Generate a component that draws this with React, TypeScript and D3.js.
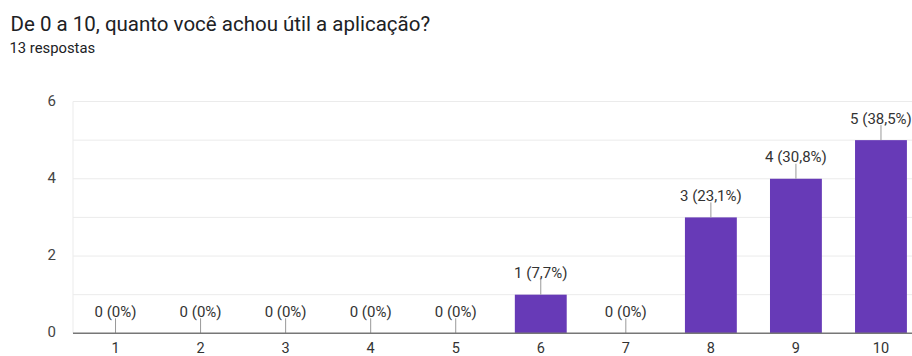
import React, { useEffect, useLayoutEffect, useRef, useState } from "react";
import * as d3 from "d3";

const categories = ["1", "2", "3", "4", "5", "6", "7", "8", "9", "10"];
const counts = [0, 0, 0, 0, 0, 1, 0, 3, 4, 5];
const percentLabels = ["0%", "0%", "0%", "0%", "0%", "7,7%", "0%", "23,1%", "30,8%", "38,5%"];
const yTicks = [0, 2, 4, 6];
const gridValues = [1, 2, 3, 4, 5, 6];
const title = "De 0 a 10, quanto você achou útil a aplicação?";
const subtitle = "13 respostas";

const W = 912;
const H = 356;
const left = 73;
const right = 923.5;
const top = 101.5;
const bottom = 333.3;
const FONT = "Roboto, Arial, sans-serif";

export default function App() {
  const titleRef = useRef<SVGTextElement>(null);
  const [titleSize, setTitleSize] = useState(19);

  useEffect(() => {
    document.body.style.margin = "0";
  }, []);

  useLayoutEffect(() => {
    const el = titleRef.current;
    if (!el) return;
    const len = el.getComputedTextLength();
    if (len > 0) {
      const target = 420;
      const next = (titleSize * target) / len;
      if (Math.abs(next - titleSize) > 0.05) setTitleSize(next);
    }
  }, [titleSize]);

  const x = d3.scaleBand<string>().domain(categories).range([left, right]).paddingInner(0.39).paddingOuter(0.195);
  const y = d3.scaleLinear().domain([0, 6]).range([bottom, top]);

  return (
    <svg width={W} height={H} style={{ display: "block", background: "#fff" }}>
      <text ref={titleRef} x={10.5} y={30.5} fontFamily={FONT} fontSize={titleSize} fill="#202124">{title}</text>
      <text x={9.5} y={53} fontFamily={FONT} fontSize={14.8} fill="#202124">{subtitle}</text>
      {gridValues.map((v) => (
        <line key={v} x1={left} x2={W} y1={y(v)} y2={y(v)} stroke="#ebebeb" strokeWidth={1} />
      ))}
      <line x1={left} x2={left} y1={top} y2={bottom} stroke="#ebebeb" strokeWidth={1} />
      {yTicks.map((v) => (
        <text key={v} x={56} y={y(v) + 4} textAnchor="end" fontFamily={FONT} fontSize={15} fill="#444">{v}</text>
      ))}
      {categories.map((c, i) => {
        const v = counts[i];
        const cx = (x(c) as number) + x.bandwidth() / 2;
        const yt = y(v);
        return (
          <g key={c}>
            {v > 0 && (
              <rect x={x(c)} y={yt} width={x.bandwidth()} height={bottom - yt} fill="#673ab7" />
            )}
            <line x1={cx} x2={cx} y1={yt} y2={yt - 15} stroke="#999" strokeWidth={1} />
            <text x={cx} y={yt - 16.5} textAnchor="middle" fontFamily={FONT} fontSize={15} fill="#333">
              {`${v} (${percentLabels[i]})`}
            </text>
            <text x={cx} y={352.5} textAnchor="middle" fontFamily={FONT} fontSize={14.5} fill="#333">{c}</text>
          </g>
        );
      })}
      <line x1={left} x2={W} y1={bottom} y2={bottom} stroke="#777" strokeWidth={1.5} />
    </svg>
  );
}
